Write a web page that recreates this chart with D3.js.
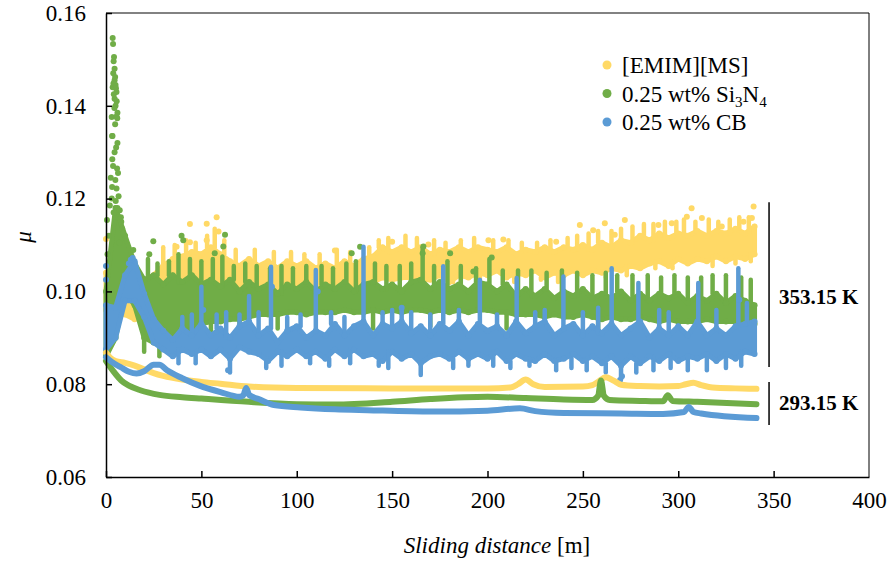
<!DOCTYPE html>
<html>
<head>
<meta charset="utf-8">
<script src="https://cdn.jsdelivr.net/npm/d3@7"></script>
<style>
  body { margin: 0; background: #fff; }
</style>
</head>
<body>
<div id="chart"></div>
<script>
const serif = '"Liberation Serif", "Times New Roman", serif';

// sliding distance grid (m) for the 353.15 K scatter clouds
const distance = [0, 5, 10, 15, 20, 25, 30, 35, 40, 45, 50, 55, 60, 65, 70, 75, 80, 85, 90, 95,
  100, 105, 110, 115, 120, 125, 130, 135, 140, 145, 150, 155, 160, 165, 170, 175, 180, 185, 190, 195,
  200, 205, 210, 215, 220, 225, 230, 235, 240, 245, 250, 255, 260, 265, 270, 275, 280, 285, 290, 295,
  300, 305, 310, 315, 320, 325, 330, 335, 340];

// 353.15 K, upper / lower edge of the dense part of each cloud
const emimHi = [0.104, 0.100, 0.100, 0.099, 0.101, 0.1035, 0.1055, 0.107, 0.1075, 0.1085,
  0.108, 0.1095, 0.108, 0.1065, 0.1055, 0.107, 0.1055, 0.1065, 0.105, 0.1065,
  0.1055, 0.1065, 0.105, 0.106, 0.105, 0.1065, 0.1055, 0.107, 0.1075, 0.1095,
  0.1085, 0.1095, 0.1085, 0.1095, 0.108, 0.109, 0.1085, 0.1095, 0.1085, 0.1095,
  0.109, 0.1085, 0.1095, 0.108, 0.109, 0.1085, 0.1095, 0.1085, 0.1095, 0.109,
  0.110, 0.109, 0.1105, 0.1095, 0.111, 0.1105, 0.112, 0.111, 0.1125, 0.1115,
  0.1125, 0.112, 0.113, 0.112, 0.113, 0.1125, 0.1135, 0.1125, 0.114];
const emimLo = [0.096, 0.095, 0.095, 0.094, 0.095, 0.098, 0.100, 0.1005, 0.101, 0.1005,
  0.101, 0.1015, 0.101, 0.100, 0.0995, 0.100, 0.0995, 0.099, 0.100, 0.100,
  0.1005, 0.100, 0.100, 0.1005, 0.1005, 0.100, 0.1005, 0.101, 0.102, 0.103,
  0.1025, 0.103, 0.103, 0.1025, 0.1025, 0.1035, 0.102, 0.1035, 0.103, 0.104,
  0.1035, 0.1045, 0.103, 0.104, 0.1035, 0.1045, 0.103, 0.104, 0.1035, 0.1045,
  0.1035, 0.1045, 0.104, 0.105, 0.1045, 0.1055, 0.105, 0.106, 0.1065, 0.1055,
  0.107, 0.106, 0.107, 0.1065, 0.1075, 0.1065, 0.1075, 0.107, 0.108];

const siHi = [0.100, 0.118, 0.112, 0.106, 0.1025, 0.1035, 0.1015, 0.1035, 0.102, 0.1035,
  0.1015, 0.1025, 0.101, 0.1025, 0.100, 0.102, 0.1005, 0.1015, 0.0995, 0.1015,
  0.1005, 0.102, 0.100, 0.1015, 0.1005, 0.102, 0.100, 0.1015, 0.102, 0.1005,
  0.1015, 0.100, 0.102, 0.1025, 0.1005, 0.102, 0.1005, 0.1015, 0.100, 0.102,
  0.1015, 0.100, 0.1015, 0.099, 0.1005, 0.099, 0.1005, 0.0985, 0.100, 0.099,
  0.1005, 0.0985, 0.0995, 0.0985, 0.100, 0.098, 0.0995, 0.098, 0.0995, 0.0985,
  0.0995, 0.0975, 0.099, 0.098, 0.0995, 0.0975, 0.099, 0.098, 0.097];
const siLo = [0.086, 0.090, 0.100, 0.097, 0.090, 0.089, 0.0895, 0.0905, 0.091, 0.092,
  0.093, 0.0935, 0.0935, 0.094, 0.094, 0.0945, 0.095, 0.095, 0.095, 0.0955,
  0.0955, 0.095, 0.0955, 0.0955, 0.0955, 0.096, 0.0955, 0.0955, 0.096, 0.0955,
  0.096, 0.0955, 0.096, 0.096, 0.0955, 0.096, 0.0955, 0.096, 0.0955, 0.096,
  0.096, 0.0955, 0.0955, 0.095, 0.095, 0.095, 0.0945, 0.095, 0.0945, 0.0945,
  0.095, 0.0945, 0.094, 0.0945, 0.094, 0.094, 0.0945, 0.094, 0.0935, 0.094,
  0.0935, 0.0935, 0.0935, 0.094, 0.0935, 0.0935, 0.0935, 0.093, 0.093];

const cbHi = [0.097, 0.0965, 0.1035, 0.1065, 0.0995, 0.094, 0.0915, 0.0895, 0.092, 0.0905,
  0.093, 0.0905, 0.092, 0.090, 0.0925, 0.0935, 0.0905, 0.092, 0.089, 0.0915,
  0.0925, 0.090, 0.0915, 0.0905, 0.093, 0.0905, 0.0925, 0.0935, 0.0905, 0.093,
  0.092, 0.0935, 0.091, 0.0925, 0.0905, 0.093, 0.0915, 0.0935, 0.0905, 0.093,
  0.0915, 0.0925, 0.0905, 0.0935, 0.091, 0.0925, 0.0935, 0.0905, 0.092, 0.093,
  0.0905, 0.0925, 0.091, 0.093, 0.0905, 0.092, 0.0935, 0.090, 0.092, 0.0905,
  0.0925, 0.0905, 0.0935, 0.0905, 0.092, 0.0905, 0.0925, 0.093, 0.0935];
const cbLo = [0.0875, 0.090, 0.098, 0.098, 0.0945, 0.089, 0.0875, 0.086, 0.0875, 0.0865,
  0.0875, 0.086, 0.0875, 0.0855, 0.088, 0.087, 0.0865, 0.085, 0.087, 0.086,
  0.0875, 0.086, 0.087, 0.0855, 0.0875, 0.086, 0.0875, 0.086, 0.0865, 0.085,
  0.087, 0.0855, 0.0865, 0.0845, 0.086, 0.0865, 0.0855, 0.087, 0.0855, 0.0865,
  0.0855, 0.087, 0.085, 0.0865, 0.0855, 0.085, 0.0865, 0.085, 0.0855, 0.0865,
  0.085, 0.086, 0.0845, 0.086, 0.084, 0.086, 0.0845, 0.086, 0.085, 0.0865,
  0.085, 0.086, 0.0855, 0.0865, 0.085, 0.0865, 0.0855, 0.087, 0.0865];

// short bursts leaving the dense part [distance, mu reached]
const emimUp = [[30, 0.1095], [36, 0.110], [42, 0.111], [47, 0.1105], [53, 0.112], [57, 0.1135], [62, 0.111],
  [68, 0.109], [78, 0.109], [88, 0.1085], [97, 0.1085], [104, 0.108], [112, 0.108], [121, 0.109], [128, 0.1085],
  [138, 0.1095], [143, 0.111], [148, 0.1115], [157, 0.112], [163, 0.1115], [172, 0.111], [178, 0.1105],
  [186, 0.111], [193, 0.1115], [203, 0.111], [211, 0.111], [218, 0.1105], [226, 0.1105], [233, 0.111],
  [242, 0.1115], [247, 0.112], [253, 0.1125], [258, 0.113], [265, 0.113], [270, 0.1135], [276, 0.114],
  [282, 0.1145], [287, 0.1145], [293, 0.115], [299, 0.115], [303, 0.1155], [309, 0.115], [316, 0.1155],
  [321, 0.115], [327, 0.1155], [332, 0.116], [337, 0.116]];
const emimDown = [[182, 0.102], [196, 0.1025], [214, 0.102], [228, 0.1025], [237, 0.102], [262, 0.103],
  [273, 0.1035], [288, 0.105], [297, 0.105], [318, 0.1055], [330, 0.106], [338, 0.1065]];
const siUp = [[22, 0.107], [27, 0.106], [33, 0.1065], [38, 0.108],
  [44, 0.107], [50, 0.1065], [56, 0.107], [61, 0.1075], [67, 0.1055], [73, 0.106], [79, 0.1055], [86, 0.105],
  [92, 0.1055], [98, 0.105], [105, 0.1055], [113, 0.1055], [119, 0.105], [126, 0.106], [131, 0.1065],
  [141, 0.106], [147, 0.1055], [154, 0.1055], [160, 0.106], [166, 0.1095], [172, 0.1055], [179, 0.1065],
  [186, 0.1055], [194, 0.105], [201, 0.107], [208, 0.1045], [216, 0.1045], [223, 0.1045], [231, 0.104],
  [239, 0.1045], [247, 0.104], [255, 0.1035], [262, 0.104], [268, 0.1035], [276, 0.1035], [284, 0.1035],
  [291, 0.103], [298, 0.1035], [305, 0.103], [312, 0.103], [318, 0.1035], [325, 0.1035], [333, 0.103],
  [338, 0.1025]];
const siDown = [[20, 0.087], [28, 0.086], [35, 0.087], [45, 0.089], [55, 0.0905], [70, 0.091], [90, 0.092],
  [140, 0.092], [170, 0.0925], [210, 0.092], [258, 0.0915], [300, 0.091]];
const cbUp = [[40, 0.0945], [45, 0.095], [50, 0.101], [58, 0.095], [63, 0.0955], [70, 0.095], [75, 0.099],
  [80, 0.0955], [86.5, 0.1053], [95, 0.0945], [102, 0.095], [110, 0.1046], [118, 0.0955], [125, 0.0945],
  [135, 0.1096], [145, 0.0955], [150, 0.096], [155, 0.0965], [160, 0.0955], [170, 0.095], [176.8, 0.1054],
  [185, 0.096], [196, 0.1025], [205, 0.095], [215.3, 0.1029], [225, 0.0955], [230, 0.096], [239.8, 0.1032],
  [250, 0.0955], [258, 0.0965], [265.1, 0.105], [279.1, 0.1018], [290, 0.096], [295, 0.0955], [310.5, 0.1018],
  [320, 0.096], [331.5, 0.105], [336, 0.0975]];
const cbDown = [[38, 0.0845], [47, 0.0845], [65, 0.0825], [84, 0.0835], [92, 0.084], [107, 0.0845],
  [117, 0.084], [128, 0.0845], [143, 0.084], [148, 0.0835], [165, 0.082], [182, 0.0835], [190, 0.084],
  [203, 0.084], [212, 0.0835], [222, 0.084], [236, 0.083], [244, 0.0835], [252, 0.083], [262, 0.0825],
  [270, 0.081], [278, 0.0825], [287, 0.083], [296, 0.0835], [305, 0.083], [315, 0.083], [325, 0.0835],
  [333, 0.084]];

// loose single points [distance, mu]
const emimStray = [[0, 0.1113], [37, 0.1096], [44, 0.1145], [44, 0.1106], [52.8, 0.1146], [52.8, 0.111],
  [58, 0.116], [59, 0.1129], [120, 0.1088], [150, 0.1107], [169, 0.1101], [200.5, 0.111], [208.3, 0.1112],
  [236, 0.1107], [248.4, 0.1143], [255.4, 0.1132], [261.5, 0.1147], [266.7, 0.1122], [272, 0.1154],
  [289.6, 0.1143], [296.6, 0.1147], [304.5, 0.1161], [307, 0.1179], [312.4, 0.1158], [322.8, 0.114],
  [334.2, 0.115], [338.6, 0.1158], [339.5, 0.1183]];
const siStray = [[3.5, 0.1546], [3.7, 0.1533], [4, 0.1496], [4.5, 0.148], [3.8, 0.147], [4.5, 0.1455],
  [5, 0.1445], [3.5, 0.144], [5.5, 0.143], [4.5, 0.1415], [5, 0.14], [6, 0.1385], [3, 0.1376], [5.5, 0.1377],
  [3.2, 0.1335], [6, 0.132], [3.3, 0.1285], [5.8, 0.1265], [2.5, 0.1245], [5.5, 0.1222], [3, 0.12],
  [6, 0.118], [6.5, 0.116], [2, 0.1185], [1.5, 0.112], [7, 0.1105], [8, 0.115], [8.5, 0.1135], [9, 0.1125],
  [4.2, 0.1505], [4.8, 0.1462], [3.9, 0.1448], [5.2, 0.1438], [4.1, 0.1425], [5.6, 0.141], [4.4, 0.1395],
  [5.9, 0.1373], [4.8, 0.136], [3.4, 0.1335], [5.3, 0.131], [4.5, 0.13], [3.7, 0.127], [6.3, 0.1255],
  [4.9, 0.124], [3.2, 0.1225], [6.6, 0.1205], [5.1, 0.1195], [7.2, 0.1175], [4, 0.117], [7.8, 0.116],
  [0.5, 0.1154], [0.8, 0.108], [14.3, 0.1089], [22.7, 0.108], [24.8, 0.1108], [39.6, 0.112], [40.5, 0.111],
  [57, 0.1082], [61.5, 0.1097], [62.4, 0.1122], [128.8, 0.1082], [133.2, 0.1096], [166.4, 0.1097],
  [166, 0.1082], [180.4, 0.1082], [192.6, 0.1043], [202.2, 0.1073]];
const cbStray = [[0, 0.1055], [0, 0.1025], [12, 0.106], [13, 0.1068], [14, 0.1072], [51, 0.096],
  [64, 0.083], [87, 0.101], [111, 0.1], [155, 0.0965], [269.5, 0.0809], [270.5, 0.0817], [332, 0.0982]];

// 293.15 K runs
const emim293X = [0, 2, 5, 10, 15, 20, 25, 30, 40, 50, 60, 75, 100, 150, 200, 212, 216, 220, 224, 230,
  250, 255, 258, 262, 266, 270, 280, 290, 300, 304, 308, 312, 318, 330, 341];
const emim293Y = [0.0868, 0.0858, 0.085, 0.0846, 0.084, 0.0832, 0.0824, 0.0818, 0.081, 0.0805, 0.0801,
  0.0795, 0.0792, 0.0791, 0.0791, 0.0793, 0.08, 0.081, 0.08, 0.0794, 0.0795, 0.0798, 0.0805, 0.0815,
  0.0808, 0.0799, 0.0796, 0.0795, 0.0796, 0.08, 0.0803, 0.0798, 0.0793, 0.0791, 0.079];
const si293X = [0, 2, 5, 8, 12, 18, 28, 40, 50, 75, 100, 120, 150, 170, 200, 220, 240, 255, 258, 259.5,
  261, 264, 280, 292, 294.5, 297, 310, 341];
const si293Y = [0.085, 0.0838, 0.0822, 0.0808, 0.0797, 0.0787, 0.0777, 0.0772, 0.0769, 0.0762, 0.0757,
  0.0756, 0.0762, 0.0768, 0.0773, 0.077, 0.0767, 0.0766, 0.0775, 0.0808, 0.0775, 0.0766, 0.0764, 0.0763,
  0.0776, 0.0764, 0.0762, 0.0757];
const cb293X = [0, 3, 8, 12, 16, 20, 25, 28, 32, 40, 49, 60, 70, 72, 73.5, 75, 80, 88, 102, 120, 137, 171,
  200, 217, 225, 240, 270, 292, 303, 305.5, 308, 312, 341];
const cb293Y = [0.0858, 0.0848, 0.0836, 0.0827, 0.0823, 0.0828, 0.0842, 0.0842, 0.083, 0.0813, 0.0797,
  0.0783, 0.0773, 0.0776, 0.0792, 0.0777, 0.0768, 0.0755, 0.075, 0.0746, 0.0744, 0.0741, 0.0743, 0.0748,
  0.0742, 0.0738, 0.0737, 0.0736, 0.074, 0.0751, 0.074, 0.0737, 0.0727];

const xTicks = [0, 50, 100, 150, 200, 250, 300, 350, 400];
const yTicks = [0.06, 0.08, 0.10, 0.12, 0.14, 0.16];
const colors = ['#FFD966', '#70AD47', '#5B9BD5'];
const legendNames = [[['[EMIM][MS]', false]], [['0.25 wt% Si', false], ['3', true], ['N', false], ['4', true]],
  [['0.25 wt% CB', false]]];
const tempLabels = ['353.15 K', '293.15 K'];
const bracketTop = [0.1192, 0.0805];
const bracketBottom = [0.0837, 0.0712];
const tempLabelY = [0.0988, 0.076];

const width = 891, height = 562;
const margin = {top: 13, right: 22, bottom: 85, left: 106};

const svg = d3.select('#chart').append('svg')
  .attr('width', width)
  .attr('height', height)
  .style('font-family', serif);

const x = d3.scaleLinear().domain([0, 400]).range([margin.left, width - margin.right]);
const y = d3.scaleLinear().domain([0.06, 0.16]).range([height - margin.bottom, margin.top]);

const plot = svg.append('g');

const clouds = [
  {hi: emimHi, lo: emimLo, up: emimUp, down: emimDown, stray: emimStray},
  {hi: siHi, lo: siLo, up: siUp, down: siDown, stray: siStray},
  {hi: cbHi, lo: cbLo, up: cbUp, down: cbDown, stray: cbStray}
];
const runs = [
  {xs: emim293X, ys: emim293Y},
  {xs: si293X, ys: si293Y},
  {xs: cb293X, ys: cb293Y}
];

const area = d3.area()
  .x(d => x(d[0]))
  .y0(d => y(d[1]))
  .y1(d => y(d[2]));
const line = d3.line()
  .x(d => x(d[0]))
  .y(d => y(d[1]))
  .curve(d3.curveMonotoneX);
const nearest = v => Math.min(distance.length - 1, Math.round(v / 5));

clouds.forEach((c, i) => {
  const rows = distance.map((d, j) => [d, c.lo[j], c.hi[j]]);
  const g = plot.append('g');
  g.append('path')
    .attr('d', area(rows))
    .attr('fill', colors[i])
    .attr('stroke', colors[i])
    .attr('stroke-width', 5)
    .attr('stroke-linejoin', 'round');
  // bursts start at the edge of the dense part nearest to them
  const bursts = c.up.map(d => [d[0], c.hi[nearest(d[0])], d[1]])
    .concat(c.down.map(d => [d[0], c.lo[nearest(d[0])], d[1]]));
  g.selectAll('line.burst')
    .data(bursts)
    .enter()
    .append('line')
    .attr('class', 'burst')
    .attr('x1', d => x(d[0]))
    .attr('x2', d => x(d[0]))
    .attr('y1', d => y(d[1]))
    .attr('y2', d => y(d[2]))
    .attr('stroke', colors[i])
    .attr('stroke-width', 4.5)
    .attr('stroke-linecap', 'round');
  const dots = rows.flatMap(r => [[r[0], r[1]], [r[0], r[2]]]).concat(c.stray);
  g.selectAll('circle')
    .data(dots)
    .enter()
    .append('circle')
    .attr('cx', d => x(d[0]))
    .attr('cy', d => y(d[1]))
    .attr('r', 3)
    .attr('fill', colors[i]);
});

runs.forEach((r, i) => {
  plot.append('path')
    .attr('d', line(r.xs.map((v, j) => [v, r.ys[j]])))
    .attr('fill', 'none')
    .attr('stroke', colors[i])
    .attr('stroke-width', 6)
    .attr('stroke-linejoin', 'round')
    .attr('stroke-linecap', 'round');
});

// frame
const x0 = x(0), x1 = x(400), y0 = y(0.06), y1 = y(0.16);
svg.append('line').attr('x1', x0).attr('x2', x1).attr('y1', y1).attr('y2', y1)
  .attr('stroke', '#595959').attr('stroke-width', 1.5);
svg.append('line').attr('x1', x1).attr('x2', x1).attr('y1', y1).attr('y2', y0)
  .attr('stroke', '#000').attr('stroke-width', 1);

// axes, ticks pointing inward
const xAxis = svg.append('g')
  .attr('transform', `translate(0,${y0})`)
  .call(d3.axisBottom(x).tickValues(xTicks).tickSizeInner(-6).tickSizeOuter(0).tickPadding(15)
    .tickFormat(d3.format('d')));
const yAxis = svg.append('g')
  .attr('transform', `translate(${x0},0)`)
  .call(d3.axisLeft(y).tickValues(yTicks).tickSizeInner(-6).tickSizeOuter(0).tickPadding(20)
    .tickFormat(d3.format('.2f')));
[xAxis, yAxis].forEach(a => {
  a.attr('font-family', null).attr('font-size', null);
  a.select('.domain').attr('stroke', '#000').attr('stroke-width', 1.5);
  a.selectAll('.tick line').attr('stroke', '#000').attr('stroke-width', 1.5);
  a.selectAll('.tick text')
    .style('font-family', serif)
    .style('font-size', '23px')
    .attr('fill', '#000');
});
xAxis.selectAll('.tick').filter(d => d === 400).select('line').remove();

// axis titles
const xTitle = svg.append('text')
  .attr('x', 497)
  .attr('y', 553)
  .attr('text-anchor', 'middle')
  .style('font-family', serif)
  .style('font-size', '23px');
xTitle.append('tspan').style('font-style', 'italic').text('Sliding distance');
xTitle.append('tspan').text(' [m]');

svg.append('text')
  .attr('transform', 'translate(31,237) rotate(-90)')
  .attr('text-anchor', 'middle')
  .style('font-family', serif)
  .style('font-size', '23px')
  .style('font-style', 'italic')
  .text('μ');

// legend
const legend = svg.selectAll('.legend')
  .data(legendNames)
  .enter()
  .append('g')
  .attr('class', 'legend')
  .attr('transform', (d, i) => `translate(607,${65 + i * 28.5})`);
legend.append('circle')
  .attr('r', 4.5)
  .attr('fill', (d, i) => colors[i]);
const legendText = legend.append('text')
  .attr('x', 15)
  .attr('y', 8)
  .style('font-family', serif)
  .style('font-size', '23px');
legendText.each(function(parts) {
  const t = d3.select(this);
  parts.forEach(p => {
    if (p[1]) {
      t.append('tspan').style('font-size', '15px').attr('dy', 5).text(p[0]);
    } else {
      const s = t.append('tspan').text(p[0]);
      if (t.selectAll('tspan').size() > 1) s.attr('dy', -5);
    }
  });
});

// temperature brackets
tempLabels.forEach((lab, i) => {
  svg.append('line')
    .attr('x1', x(347.6)).attr('x2', x(347.6))
    .attr('y1', y(bracketTop[i])).attr('y2', y(bracketBottom[i]))
    .attr('stroke', '#000').attr('stroke-width', 1.5);
  svg.append('text')
    .attr('x', x(352.8))
    .attr('y', y(tempLabelY[i]))
    .attr('dy', '0.35em')
    .style('font-family', serif)
    .style('font-size', '21px')
    .style('font-weight', 'bold')
    .text(lab);
});
</script>
</body>
</html>
